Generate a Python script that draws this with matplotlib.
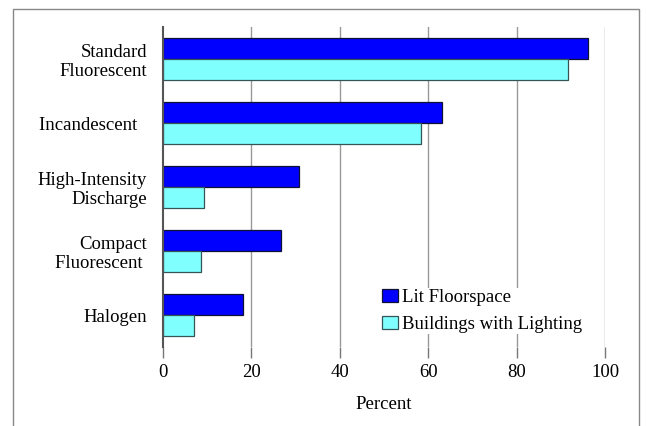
import matplotlib
matplotlib.use("Agg")
import matplotlib.pyplot as plt
from matplotlib.patches import Rectangle
import numpy as np

categories = ["Standard\nFluorescent", "Incandescent  ", "High-Intensity\nDischarge",
              "Compact\nFluorescent ", "Halogen"]
lit_floorspace = [96.2, 63.2, 30.7, 26.6, 18.1]
buildings_with_lighting = [91.6, 58.4, 9.3, 8.5, 7.1]
x_ticks = [0, 20, 40, 60, 80, 100]
series_names = ["Lit Floorspace", "Buildings with Lighting"]

plt.rcParams['font.family'] = ['Liberation Serif', 'DejaVu Serif']
FS = 13.5

W, H = 646, 426
fig = plt.figure(figsize=(W / 100, H / 100), dpi=100)
ax = fig.add_axes([163 / W, 1 - 347 / H, (605 - 163) / W, (347 - 27) / H])

y = np.arange(len(categories))
h = 0.33
ax.barh(y - h / 2, lit_floorspace, height=h, color='#0000FF', edgecolor='#111133',
        linewidth=0.9, label=series_names[0], zorder=3)
ax.barh(y + h / 2, buildings_with_lighting, height=h, color='#80FFFF', edgecolor='#335555',
        linewidth=0.9, label=series_names[1], zorder=3)

ax.set_ylim(len(categories) - 0.5, -0.5)
ax.set_xlim(0, 100)
ax.set_xticks(x_ticks)
ax.set_xticklabels([str(t) for t in x_ticks], fontsize=FS)
ax.set_yticks(y)
ax.set_yticklabels(categories, fontsize=FS, multialignment='right', linespacing=1.17)
ax.tick_params(axis='y', length=0, pad=11.5)
ax.tick_params(axis='x', length=8, color='#777777', width=1, pad=4)

for t in x_ticks[1:]:
    ax.axvline(t, color='#999999', linewidth=1, zorder=1)

for s in ['top', 'right', 'bottom']:
    ax.spines[s].set_visible(False)
ax.spines['left'].set_color('#555555')
ax.spines['left'].set_linewidth(1.5)
ax.spines['left'].set_zorder(4)

ax.set_xlabel("Percent", fontsize=FS, labelpad=11)

leg = ax.legend(loc='lower left', bbox_to_anchor=((381 - 163) / (605 - 163), (347 - 334) / 320),
                frameon=True, fontsize=FS, handlelength=0.85, handleheight=0.7,
                handletextpad=0.2, labelspacing=0.55, borderpad=0.05, borderaxespad=0)
leg.get_frame().set_edgecolor('none')
leg.get_frame().set_facecolor('white')
leg.get_frame().set_alpha(1)
leg.set_zorder(5)

fig.add_artist(Rectangle((13 / W, -0.1), (639 - 13) / W, 1.1 - 9 / H, transform=fig.transFigure,
                         fill=False, edgecolor='#888888', linewidth=1))

fig.savefig("out.png", dpi=100)
